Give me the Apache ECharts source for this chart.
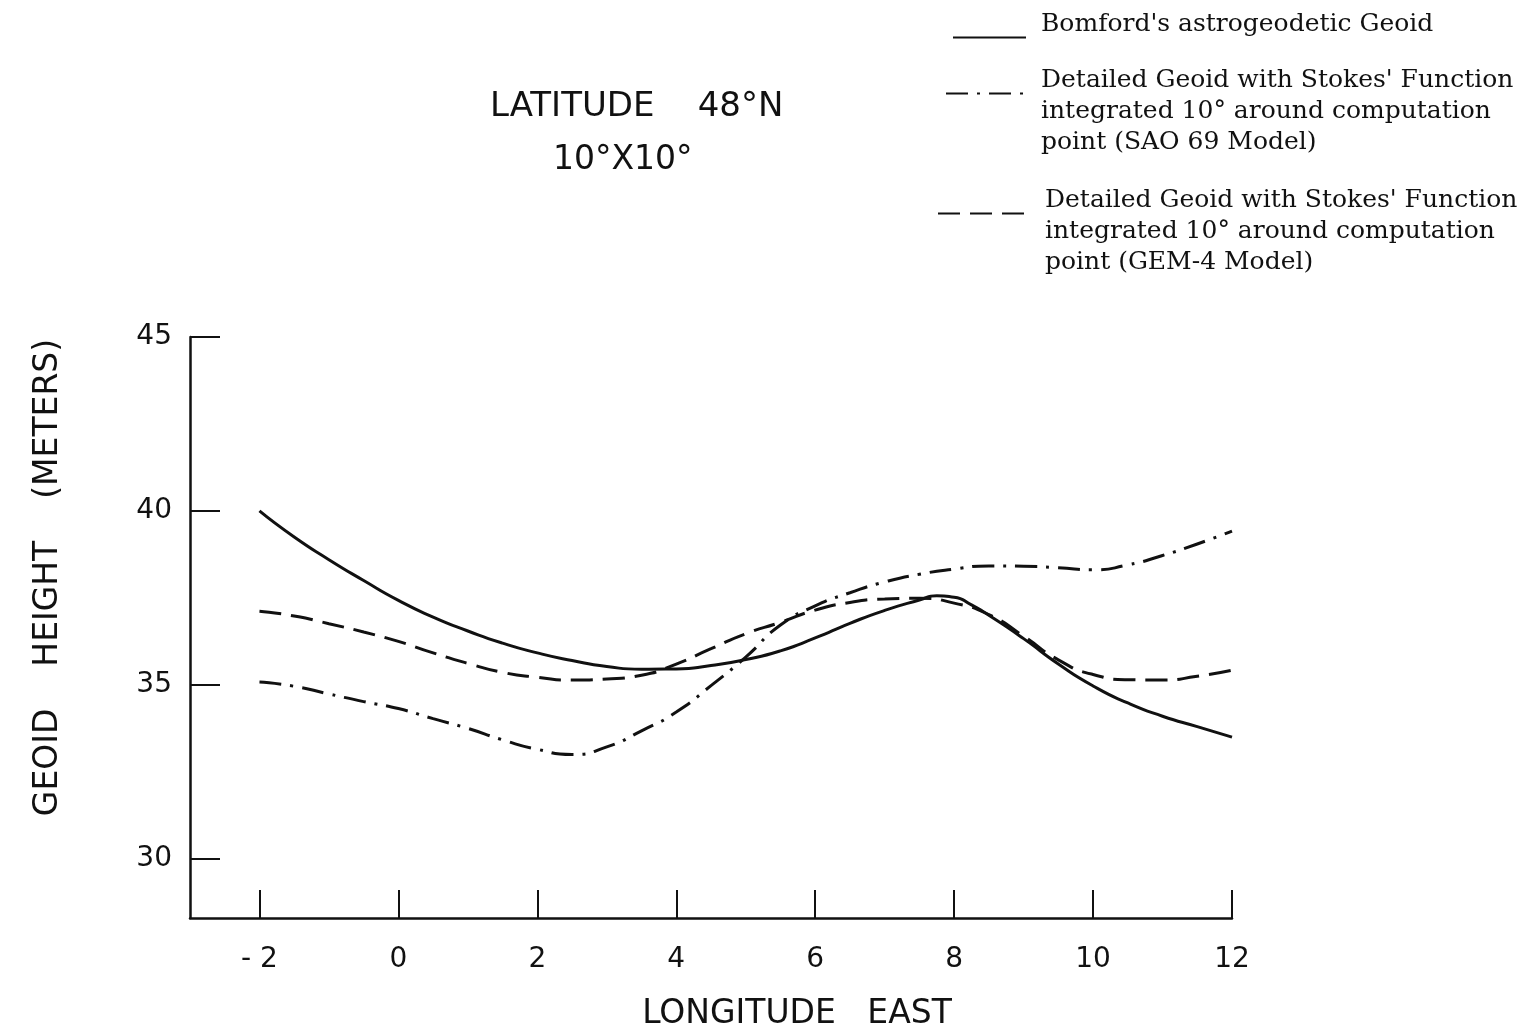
<!DOCTYPE html>
<html>
<head>
<meta charset="utf-8">
<script src="https://cdn.jsdelivr.net/npm/echarts@6/dist/echarts.min.js"></script>
<style>
  html, body { margin: 0; padding: 0; background: #fff; }
  #container { width: 1532px; height: 1036px; }
</style>
</head>
<body>
<div id="container"></div>
<script>
// longitude east, degrees
var lon = [-2, -1.5, -1, -0.5, 0, 0.5, 1, 1.5, 2, 2.5, 3, 3.5, 4, 4.5, 5, 5.5, 6, 6.5, 7, 7.5, 8, 8.5, 9, 9.5, 10, 10.5, 11, 11.5, 12];
// Bomford's curve is read a bit denser around its peak
var bomfordLon = [-2, -1.5, -1, -0.5, 0, 0.5, 1, 1.5, 2, 2.5, 3, 3.5, 4, 4.5, 5, 5.5, 6, 6.5, 7, 7.5, 7.75, 8, 8.25, 8.5, 9, 9.5, 10, 10.5, 11, 11.5, 12];
// geoid heights (meters)
var bomford = [40.0, 39.25, 38.6, 38.0, 37.43, 36.95, 36.55, 36.2, 35.92, 35.7, 35.53, 35.45, 35.46, 35.56, 35.73, 35.98, 36.35, 36.77, 37.14, 37.44, 37.56, 37.52, 37.3, 37.0, 36.33, 35.6, 34.97, 34.48, 34.1, 33.8, 33.5];
var sao69 = [35.08, 34.96, 34.74, 34.52, 34.32, 34.03, 33.75, 33.42, 33.15, 33.0, 33.22, 33.68, 34.22, 34.98, 35.8, 36.72, 37.27, 37.65, 37.96, 38.18, 38.33, 38.42, 38.41, 38.37, 38.31, 38.45, 38.72, 39.05, 39.42];
var gem4 = [37.12, 36.98, 36.76, 36.52, 36.25, 35.92, 35.62, 35.36, 35.22, 35.14, 35.17, 35.28, 35.6, 36.04, 36.47, 36.8, 37.15, 37.37, 37.47, 37.49, 37.35, 37.02, 36.4, 35.72, 35.3, 35.15, 35.14, 35.25, 35.42];

var xTicks = [-2, 0, 2, 4, 6, 8, 10, 12];
var yTicks = [30, 35, 40, 45];

var legendLines = {
  'Bomford': ["Bomford's astrogeodetic Geoid"],
  'SAO 69': ["Detailed Geoid with Stokes' Function", "integrated 10\u00b0 around computation", "point (SAO 69 Model)"],
  'GEM-4': ["Detailed Geoid with Stokes' Function", "integrated 10\u00b0 around computation", "point (GEM-4 Model)"]
};

function pairs(xs, vals) {
  return xs.map(function (x, i) { return [x, vals[i]]; });
}

var sans = 'DejaVu Sans';
var serif = 'DejaVu Serif';

var dom = document.getElementById('container');
var myChart = echarts.init(dom);

// icon sits under the first text line, so pad the text block with a spacer line
function legendItem(name, left, top, width, padLeft) {
  return {
    data: [name],
    orient: 'vertical',
    left: left,
    top: top,
    padding: 0,
    itemWidth: width,
    itemHeight: 14,
    selectedMode: false,
    itemStyle: { opacity: 0 },
    formatter: function (n) {
      var lines = legendLines[n].map(function (s) { return '{t|' + s + '}'; });
      if (lines.length === 1) return lines[0] + '\n{sb| }';
      return '{st| }\n' + lines.join('\n');
    },
    textStyle: {
      padding: [0, 0, 0, padLeft],
      rich: {
        t: { fontFamily: serif, fontSize: 25, lineHeight: 31, color: '#111' },
        sb: { fontSize: 4, lineHeight: 26 },
        st: { fontSize: 4, lineHeight: 36 }
      }
    }
  };
}

var option = {
  backgroundColor: '#fff',
  animation: false,
  title: [{
    text: 'LATITUDE    48\u00b0N',
    left: 490,
    top: 90,
    padding: 0,
    textStyle: { fontFamily: sans, fontSize: 34, fontWeight: 'normal', color: '#111' }
  }, {
    text: '10\u00b0X10\u00b0',
    left: 553,
    top: 144,
    padding: 0,
    textStyle: { fontFamily: sans, fontSize: 33, fontWeight: 'normal', color: '#111' }
  }],
  legend: [
    legendItem('Bomford', 952, 12, 73, 10),
    legendItem('SAO 69', 945, 45, 85, 5),
    legendItem('GEM-4', 937, 165, 96, 6)
  ],
  grid: { left: 190, right: 300, top: 337, bottom: 112 },
  xAxis: {
    type: 'value',
    min: -3,
    max: 12,
    name: 'LONGITUDE   EAST',
    nameLocation: 'middle',
    nameGap: 80,
    nameTextStyle: { fontFamily: sans, fontSize: 33, color: '#111', padding: [0, 0, 0, 172] },
    axisLine: { show: true, onZero: false, lineStyle: { color: '#111', width: 2.5 } },
    axisTick: { show: true, inside: true, length: 28, customValues: xTicks, lineStyle: { color: '#111', width: 2 } },
    axisLabel: { customValues: xTicks, margin: 28, fontFamily: sans, fontSize: 28, color: '#111',
      formatter: function (v) { return v < 0 ? '- ' + Math.abs(v) : String(v); } },
    splitLine: { show: false }
  },
  yAxis: {
    type: 'value',
    min: 28.3,
    max: 45,
    name: 'GEOID    HEIGHT    (METERS)',
    nameLocation: 'middle',
    nameGap: 125,
    nameTextStyle: { fontFamily: sans, fontSize: 33, color: '#111', padding: [0, 0, 0, 100] },
    axisLine: { show: true, onZero: false, lineStyle: { color: '#111', width: 2.5 } },
    axisTick: { show: true, inside: true, length: 30, customValues: yTicks, lineStyle: { color: '#111', width: 2 } },
    axisLabel: { customValues: yTicks, margin: 18, fontFamily: sans, fontSize: 28, color: '#111' },
    splitLine: { show: false }
  },
  series: [{
    name: 'Bomford',
    type: 'line',
    smooth: 0.6,
    symbol: 'none',
    lineStyle: { color: '#111', width: 3, type: 'solid' },
    data: pairs(bomfordLon, bomford)
  }, {
    name: 'SAO 69',
    type: 'line',
    smooth: 0.6,
    symbol: 'none',
    lineStyle: { color: '#111', width: 3, type: [22, 9, 3, 9] },
    data: pairs(lon, sao69)
  }, {
    name: 'GEM-4',
    type: 'line',
    smooth: 0.6,
    symbol: 'none',
    lineStyle: { color: '#111', width: 3, type: [22, 10] },
    data: pairs(lon, gem4)
  }]
};

if (option && typeof option === 'object') {
  myChart.setOption(option, true);
}
</script>
</body>
</html>
